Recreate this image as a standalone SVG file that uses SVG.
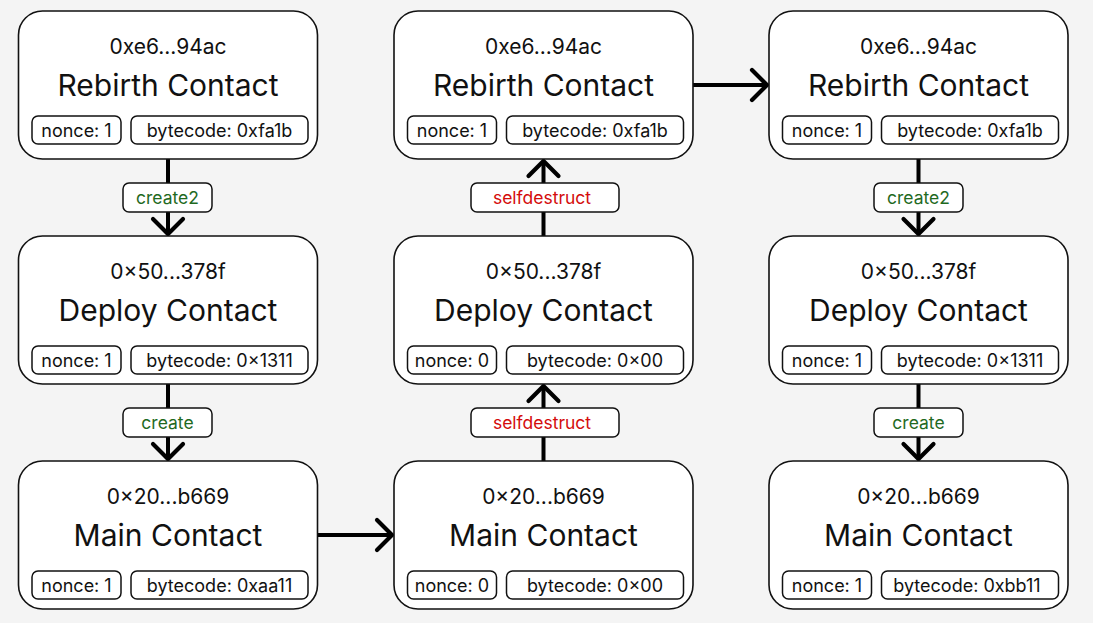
<svg xmlns="http://www.w3.org/2000/svg" width="1093" height="623" viewBox="0 0 1093 623">
<style>
.bg{fill:#f4f4f4}
.node{fill:#fff;stroke:#111;stroke-width:1.6}
.pill{fill:#fff;stroke:#111;stroke-width:1.5}
.addr{font-family:Inter,"Liberation Sans",sans-serif;font-size:21px;fill:#111;text-anchor:middle}
.title{font-family:Inter,"Liberation Sans",sans-serif;font-size:30px;fill:#111;text-anchor:middle}
.ptxt{font-family:Inter,"Liberation Sans",sans-serif;font-size:18px;fill:#111;text-anchor:middle}
.edge{stroke:#000;stroke-width:4;fill:none;marker-end:url(#arr)}
.lbl{fill:#fff;stroke:#111;stroke-width:1.5}
.lg{font-family:Inter,"Liberation Sans",sans-serif;font-size:17.5px;fill:#1f6a1f;text-anchor:middle}
.lr{font-family:Inter,"Liberation Sans",sans-serif;font-size:17.5px;fill:#d40c0c;text-anchor:middle}
</style>
<defs>
<marker id="arr" markerUnits="userSpaceOnUse" viewBox="-20 -20 24 40" refX="0" refY="0" markerWidth="24" markerHeight="40" orient="auto">
<path d="M-15,-15 L0,0 L-15,15" fill="none" stroke="#000" stroke-width="4.2" stroke-linecap="round" stroke-linejoin="miter"/>
</marker>
</defs>
<rect class="bg" x="0" y="0" width="1093" height="623"/>

<g id="connectors">
<line class="edge" x1="168" y1="159" x2="168" y2="234"/>
<line class="edge" x1="168" y1="384" x2="168" y2="459"/>
<line class="edge" x1="318" y1="535" x2="392" y2="535"/>
<line class="edge" x1="543.5" y1="461" x2="543.5" y2="386"/>
<line class="edge" x1="543.5" y1="236" x2="543.5" y2="161"/>
<line class="edge" x1="693" y1="85" x2="767" y2="85"/>
<line class="edge" x1="918.5" y1="159" x2="918.5" y2="234"/>
<line class="edge" x1="918.5" y1="384" x2="918.5" y2="459"/>
<rect class="lbl" x="123" y="183" width="89" height="29" rx="6"/>
<text class="lg" x="167.5" y="204">create2</text>
<rect class="lbl" x="123" y="408" width="89" height="29" rx="6"/>
<text class="lg" x="167.5" y="429">create</text>
<rect class="lbl" x="471" y="183" width="148" height="29" rx="6"/>
<text class="lr" x="542" y="204">selfdestruct</text>
<rect class="lbl" x="471" y="408" width="148" height="29" rx="6"/>
<text class="lr" x="542" y="429">selfdestruct</text>
<rect class="lbl" x="874" y="183" width="89" height="29" rx="6"/>
<text class="lg" x="918.5" y="204">create2</text>
<rect class="lbl" x="874" y="408" width="89" height="29" rx="6"/>
<text class="lg" x="918.5" y="429">create</text>
</g>

<g id="rebirth1" transform="translate(18.5,11)">
<rect class="node" x="0" y="0" width="299" height="148" rx="24"/>
<text class="addr" x="149.5" y="43">0xe6...94ac</text>
<text class="title" x="149.5" y="85">Rebirth Contact</text>
<rect class="pill" x="13.5" y="105" width="89" height="28" rx="6"/>
<text class="ptxt" x="58" y="125.5">nonce: 1</text>
<rect class="pill" x="112.5" y="105" width="177" height="28" rx="6"/>
<text class="ptxt" x="201" y="125.5">bytecode: 0xfa1b</text>
</g>
<g id="deploy1" transform="translate(18.5,236)">
<rect class="node" x="0" y="0" width="299" height="148" rx="24"/>
<text class="addr" x="149.5" y="43">0×50...378f</text>
<text class="title" x="149.5" y="85">Deploy Contact</text>
<rect class="pill" x="13.5" y="110" width="89" height="28" rx="6"/>
<text class="ptxt" x="58" y="130.5">nonce: 1</text>
<rect class="pill" x="112.5" y="110" width="177" height="28" rx="6"/>
<text class="ptxt" x="201" y="130.5">bytecode: 0×1311</text>
</g>
<g id="main1" transform="translate(18.5,461)">
<rect class="node" x="0" y="0" width="299" height="148" rx="24"/>
<text class="addr" x="149.5" y="43">0×20...b669</text>
<text class="title" x="149.5" y="85">Main Contact</text>
<rect class="pill" x="13.5" y="110" width="89" height="28" rx="6"/>
<text class="ptxt" x="58" y="130.5">nonce: 1</text>
<rect class="pill" x="112.5" y="110" width="177" height="28" rx="6"/>
<text class="ptxt" x="201" y="130.5">bytecode: 0xaa11</text>
</g>

<g id="rebirth2" transform="translate(394,11)">
<rect class="node" x="0" y="0" width="299" height="148" rx="24"/>
<text class="addr" x="149.5" y="43">0xe6...94ac</text>
<text class="title" x="149.5" y="85">Rebirth Contact</text>
<rect class="pill" x="13.5" y="105" width="89" height="28" rx="6"/>
<text class="ptxt" x="58" y="125.5">nonce: 1</text>
<rect class="pill" x="112.5" y="105" width="177" height="28" rx="6"/>
<text class="ptxt" x="201" y="125.5">bytecode: 0xfa1b</text>
</g>
<g id="deploy2" transform="translate(394,236)">
<rect class="node" x="0" y="0" width="299" height="148" rx="24"/>
<text class="addr" x="149.5" y="43">0×50...378f</text>
<text class="title" x="149.5" y="85">Deploy Contact</text>
<rect class="pill" x="13.5" y="110" width="89" height="28" rx="6"/>
<text class="ptxt" x="58" y="130.5">nonce: 0</text>
<rect class="pill" x="112.5" y="110" width="177" height="28" rx="6"/>
<text class="ptxt" x="201" y="130.5">bytecode: 0×00</text>
</g>
<g id="main2" transform="translate(394,461)">
<rect class="node" x="0" y="0" width="299" height="148" rx="24"/>
<text class="addr" x="149.5" y="43">0×20...b669</text>
<text class="title" x="149.5" y="85">Main Contact</text>
<rect class="pill" x="13.5" y="110" width="89" height="28" rx="6"/>
<text class="ptxt" x="58" y="130.5">nonce: 0</text>
<rect class="pill" x="112.5" y="110" width="177" height="28" rx="6"/>
<text class="ptxt" x="201" y="130.5">bytecode: 0×00</text>
</g>

<g id="rebirth3" transform="translate(769,11)">
<rect class="node" x="0" y="0" width="299" height="148" rx="24"/>
<text class="addr" x="149.5" y="43">0xe6...94ac</text>
<text class="title" x="149.5" y="85">Rebirth Contact</text>
<rect class="pill" x="13.5" y="105" width="89" height="28" rx="6"/>
<text class="ptxt" x="58" y="125.5">nonce: 1</text>
<rect class="pill" x="112.5" y="105" width="177" height="28" rx="6"/>
<text class="ptxt" x="201" y="125.5">bytecode: 0xfa1b</text>
</g>
<g id="deploy3" transform="translate(769,236)">
<rect class="node" x="0" y="0" width="299" height="148" rx="24"/>
<text class="addr" x="149.5" y="43">0×50...378f</text>
<text class="title" x="149.5" y="85">Deploy Contact</text>
<rect class="pill" x="13.5" y="110" width="89" height="28" rx="6"/>
<text class="ptxt" x="58" y="130.5">nonce: 1</text>
<rect class="pill" x="112.5" y="110" width="177" height="28" rx="6"/>
<text class="ptxt" x="201" y="130.5">bytecode: 0×1311</text>
</g>
<g id="main3" transform="translate(769,461)">
<rect class="node" x="0" y="0" width="299" height="148" rx="24"/>
<text class="addr" x="149.5" y="43">0×20...b669</text>
<text class="title" x="149.5" y="85">Main Contact</text>
<rect class="pill" x="13.5" y="110" width="89" height="28" rx="6"/>
<text class="ptxt" x="58" y="130.5">nonce: 1</text>
<rect class="pill" x="112.5" y="110" width="177" height="28" rx="6"/>
<text class="ptxt" x="198" y="130.5">bytecode: 0xbb11</text>
</g>
</svg>
